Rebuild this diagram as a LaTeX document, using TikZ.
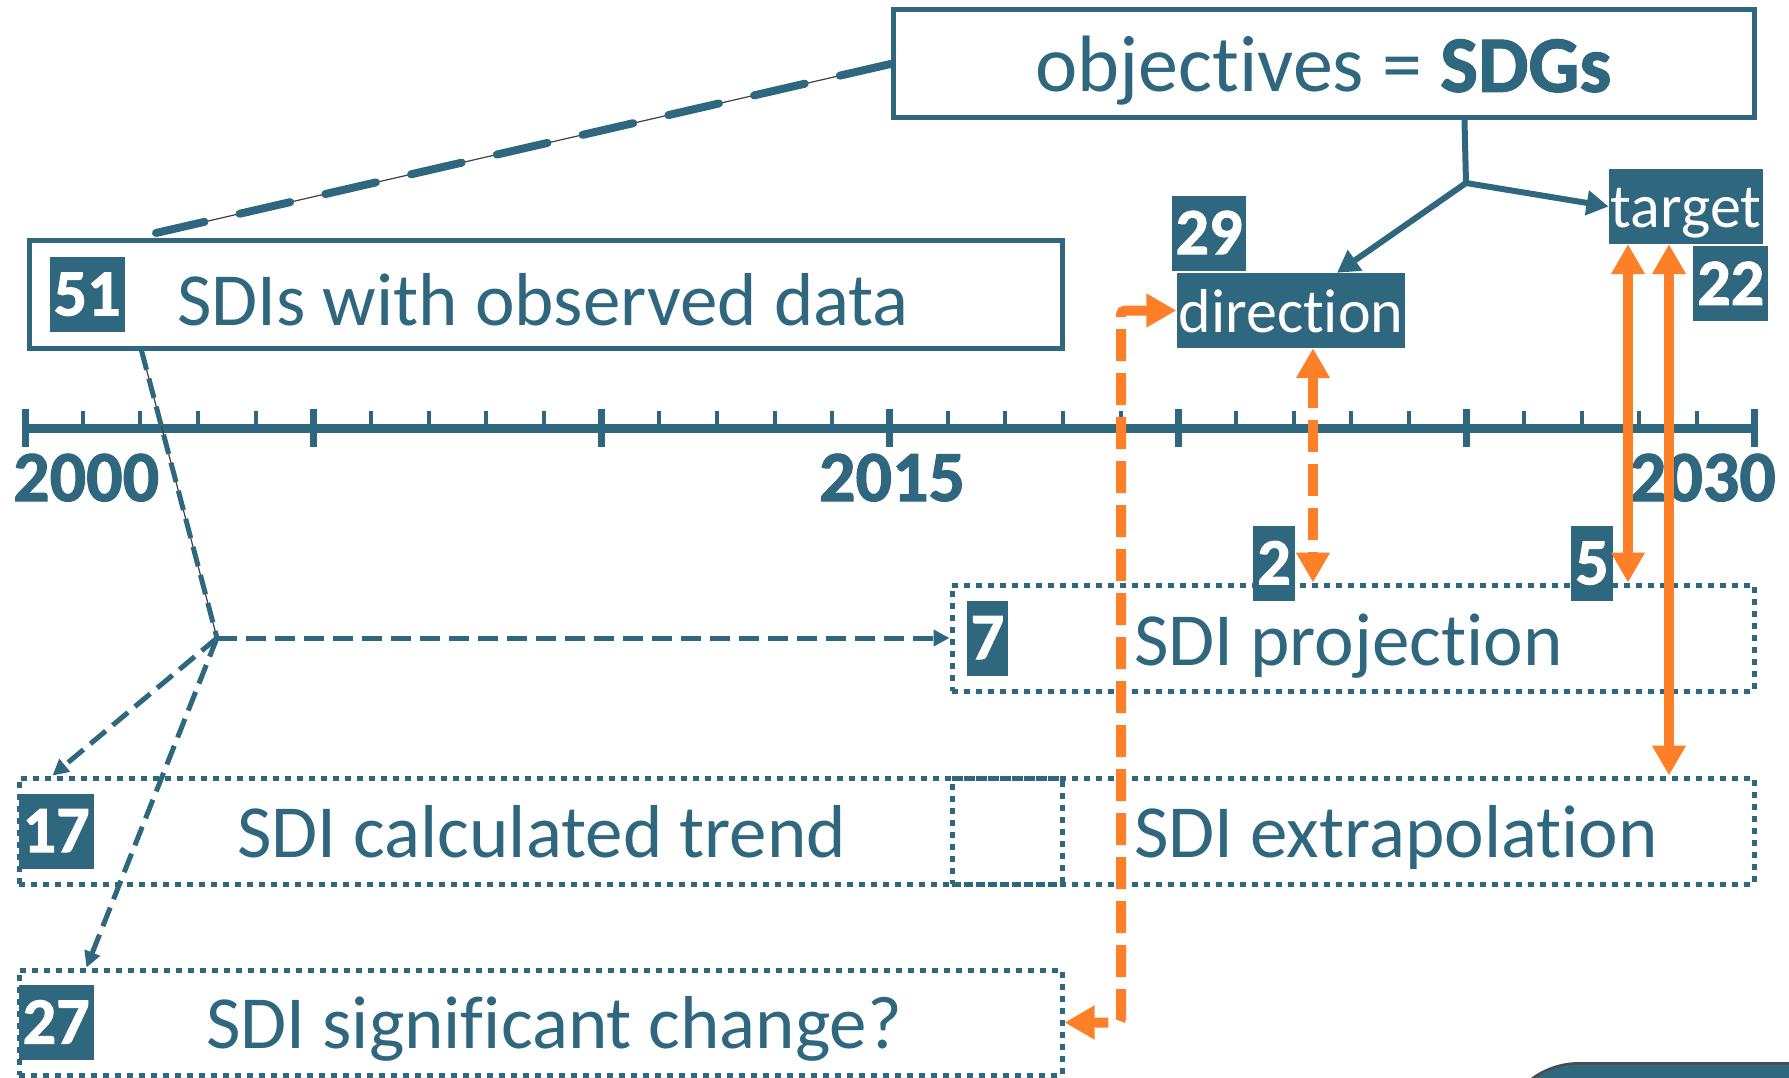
\documentclass[tikz,border=0pt]{standalone}
\usepackage{fontspec}
\setmainfont{Carlito}[Ligatures={NoCommon,NoRequired,NoContextual},Contextuals=NoAlternate,BoldFeatures={FakeBold=1.5}]
\usetikzlibrary{arrows.meta,positioning,calc}
\definecolor{sdi}{RGB}{46,103,126}
\definecolor{orng}{RGB}{253,127,39}

\begin{document}
\begin{tikzpicture}[x=1pt,y=-1pt,
  every node/.style={inner sep=0pt},%
  box/.style={draw=sdi,line width=5pt},%
  dotbox/.style={draw=sdi,line width=5pt,dash pattern=on 6pt off 6pt},%
  num/.style={fill=sdi,text=white,font=\bfseries\fontsize{66}{66}\selectfont,
    inner xsep=4pt,minimum height=75pt,text height=42pt,text depth=0pt},%
  tag/.style={fill=sdi,text=white,font=\fontsize{62}{62}\selectfont,
    inner xsep=2pt,minimum height=75pt,text height=43pt,text depth=0pt},%
  lbl/.style={text=sdi,font=\fontsize{75}{75}\selectfont,anchor=base west},%
  yr/.style={text=sdi,font=\bfseries\fontsize{72}{72}\selectfont},%
  wire/.style={preaction={draw=black!75,solid,line width=1.2pt,-}},%
  ld/.style={sdi,line width=8pt,line cap=round,dash pattern=on 52pt off 36pt,wire},%
  e/.style={-{Triangle[length=22pt,width=24pt]},sdi,line width=6pt},%
  de/.style={-{Triangle[length=16pt,width=16pt]},sdi,line width=5pt,dash pattern=on 20pt off 9pt},%
  o/.style={{Triangle[length=30pt,width=32pt]}-{Triangle[length=30pt,width=32pt]},orng,line width=10pt},%
  od/.style={o,dash pattern=on 32pt off 12pt},%
  ]
  \path [clip] (0,0) rectangle (1789,1078);

  \node (obj) [box,minimum width=861pt,minimum height=108pt,
  text=sdi,font=\fontsize{80}{80}\selectfont,text depth=0pt,
  ] at (1323.5,64) {objectives = \textbf{SDGs}};

  \node (data) [box,minimum width=1033pt,minimum height=107pt] at (545.5,294.5) {};
  \node (n51) [num,right=23pt of data.west] {51};
  \node (tdata) [lbl] at (177,325) {SDIs with observed data};

  \node (proj) [dotbox,minimum width=802pt,minimum height=106pt] at (1353,638) {};
  \node (extra) [dotbox,minimum width=802pt,minimum height=106pt] at (1353,831) {};
  \node (trend) [dotbox,minimum width=1043pt,minimum height=106pt] at (540.5,831) {};
  \node (change) [dotbox,minimum width=1043pt,minimum height=105pt] at (540.5,1022.5) {};

  \node (tproj) [lbl] at (1134,665) {SDI projection};
  \node (textra) [lbl] at (1134,857) {SDI extrapolation};
  \node (ttrend) [lbl] at (237,857) {SDI calculated trend};
  \node (tchange) [lbl] at (206,1048) {SDI significant change?};

  \node (n7) [num,right=17pt of proj.west] {7};
  \node (n17) [num,right=2pt of trend.west] {17};
  \node (n27) [num,right=2pt of change.west] {27};
  \node (n2) [num,anchor=south east] at (1295,601) {2};
  \node (n5) [num,anchor=south east] at (1613,601) {5};

  \node (direction) [tag] at (1291,310.5) {direction};
  \node (target) [tag] at (1686,206.5) {target};
  \node (n29) [num,above=2pt of direction.north west,anchor=south west,xshift=-5pt] {29};
  \node (n22) [num,below=2pt of target.south east,anchor=north east,xshift=5pt] {22};

  \node (note) [fill=sdi,draw=black!70,line width=2.5pt,rounded corners=80pt,
  minimum width=400pt,minimum height=240pt,anchor=north west] at (1498,1062) {};

  \draw [sdi,line width=9pt] (25,428) -- (1757,428);
  \foreach \k in {0,...,30}
    \draw [sdi,line width=4pt] ({25+57.66*\k},411) -- ({25+57.66*\k},428);
  \foreach \k in {0,...,6}
    \draw [sdi,line width=7pt] ({25+288.3*\k},409) -- ({25+288.3*\k},447);

  \node (y2000) [yr,anchor=base west] at (13,501) {2000};
  \node (y2015) [yr,anchor=base] at (892,501) {2015};
  \node (y2030) [yr,anchor=base east] at (1776,501) {2030};

  \coordinate (dtop) at (156,233);
  \coordinate (split) at (217,638);
  \coordinate (fork) at (1466,183);

  \draw [ld] (obj.west) -- (dtop);
  \draw [de,-,wire] ([xshift=115pt]data.south west) -- (split);
  \draw [de] (split) -- (proj.west);
  \draw [de] (split) -- ([xshift=36pt]trend.north west);
  \draw [de] (split) -- ([xshift=70pt]change.north west);

  \draw [e,-,line cap=round] ([xshift=141pt]obj.south) -- (fork);
  \draw [e] (fork) -- (target.west);
  \draw [e] (fork) -- ([xshift=46pt]direction.north);

  \coordinate (vl) at (1121,600);
  \coordinate (a2) at ([xshift=22pt]direction.south);
  \coordinate (a5) at ([xshift=-58pt]target.south);
  \coordinate (a22) at ([xshift=-17pt]target.south);

  \draw [od,rounded corners=4pt] (direction.west) -- (direction.west -| vl) |- (change.east);
  \draw [od] (a2) -- (a2 |- proj.north);
  \draw [o] (a5) -- (a5 |- proj.north);
  \draw [o] (a22) -- (a22 |- extra.north);
\end{tikzpicture}
\end{document}
